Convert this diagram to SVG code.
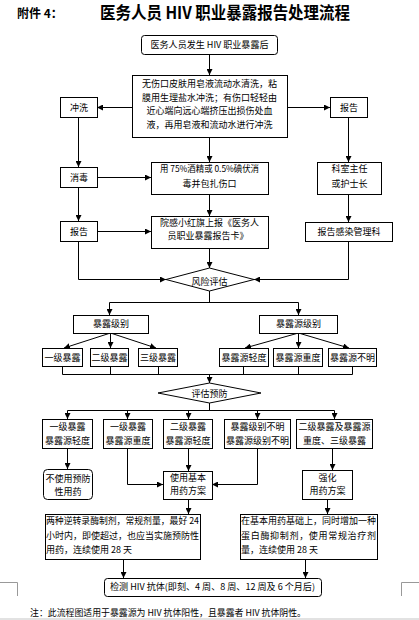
<svg xmlns="http://www.w3.org/2000/svg" width="419" height="620" viewBox="0 0 419 620">
<defs>
<marker id="ah" markerUnits="userSpaceOnUse" markerWidth="6" markerHeight="6" refX="6" refY="3" orient="auto">
<path d="M0,0 L6,3 L0,6 z" fill="#000"/>
</marker>
<style>
.b{fill:#fff;stroke:#000;stroke-width:1}
.t{font-family:"Noto Sans CJK SC","Liberation Sans",sans-serif;font-size:9px;fill:#000}
.c{text-anchor:middle}
.l{fill:none;stroke:#000;stroke-width:1}
.a{fill:none;stroke:#000;stroke-width:1;marker-end:url(#ah)}
.g{fill:none;stroke:#999;stroke-width:1}
</style>
</defs>
<rect x="0" y="0" width="419" height="620" fill="#fff"/>
<rect x="0" y="618" width="419" height="2" fill="#e2e2e2"/>
<path class="g" d="M0,582.5 H17.5 V596 M419,582.5 H401.5 V596"/>
<text x="17" y="18" class="t" style="font-size:12px;font-weight:bold">附件 4：</text>
<text x="225" y="19" class="t c" style="font-size:17px;font-weight:bold" textLength="250" lengthAdjust="spacingAndGlyphs">医务人员 HIV 职业暴露报告处理流程</text>

<g id="connectors">
<path class="a" d="M209.5,54 V75"/>
<path class="a" d="M132,107.5 H97"/>
<path class="a" d="M287,107.5 H330"/>
<path class="a" d="M78.5,117 V167"/>
<path class="a" d="M209.5,137 V162"/>
<path class="a" d="M348.5,117 V162"/>
<path class="a" d="M97,177.5 H151"/>
<path class="a" d="M78.5,187 V221"/>
<path class="a" d="M209.5,194 V216"/>
<path class="a" d="M348.5,194 V222"/>
<path class="a" d="M97,231.5 H151"/>
<path class="a" d="M209.5,248 V268"/>
<path class="a" d="M78.5,241 V279.5 H166"/>
<path class="a" d="M348.5,241 V279.5 H254"/>
<path class="l" d="M209.5,291 V302.5 M109.5,302.5 H298.5"/>
<path class="a" d="M109.5,302.5 V315"/>
<path class="a" d="M298.5,302.5 V315"/>
<path class="a" d="M110.5,333 L64,348"/>
<path class="a" d="M110.5,333 V348"/>
<path class="a" d="M110.5,333 L156,348"/>
<path class="a" d="M298.5,333 L245,348"/>
<path class="a" d="M298.5,333 V348"/>
<path class="a" d="M298.5,333 L349,348"/>
<path class="l" d="M62.5,366 V374.5 M110.5,366 V374.5 M158.5,366 V374.5 M243.5,367 V374.5 M298.5,367 V374.5 M352.5,367 V374.5 M62.5,374.5 H352.5"/>
<path class="a" d="M209.5,374.5 V383"/>
<path class="l" d="M209.5,403 V410.5 M67.5,410.5 H334.5"/>
<path class="a" d="M67.5,410.5 V419"/>
<path class="a" d="M127.5,410.5 V419"/>
<path class="a" d="M188.5,410.5 V419"/>
<path class="a" d="M257.5,410.5 V419"/>
<path class="a" d="M334.5,410.5 V419"/>
<path class="a" d="M67.5,448 V469"/>
<path class="a" d="M127.5,448 V484.5 H163"/>
<path class="a" d="M188.5,448 V471"/>
<path class="a" d="M257.5,448 V484.5 H212"/>
<path class="a" d="M332.5,448 V470"/>
<path class="a" d="M188.5,499 V514"/>
<path class="a" d="M327.5,499 V514"/>
<path class="a" d="M123.5,559 V578"/>
<path class="a" d="M305.5,559 V578"/>
</g>

<g id="n_start"><rect class="b" x="141.5" y="35.5" width="136" height="19" rx="3"/><text class="t c" x="209.5" y="48" textLength="118" lengthAdjust="spacingAndGlyphs">医务人员发生 HIV 职业暴露后</text></g>
<g id="n_wash_desc"><rect class="b" x="132.5" y="75.5" width="155" height="62"/>
<text class="t c" x="209.5" y="86.5">无伤口皮肤用皂液流动水清洗，粘</text>
<text class="t c" x="209.5" y="100.5">膜用生理盐水冲洗；有伤口轻轻由</text>
<text class="t c" x="209.5" y="114">近心端向远心端挤压出损伤处血</text>
<text class="t c" x="209.5" y="127.5">液，再用皂液和流动水进行冲洗</text></g>
<g id="n_wash"><rect class="b" x="60.5" y="97.5" width="37" height="20"/><text class="t c" x="79" y="110.5">冲洗</text></g>
<g id="n_report_r"><rect class="b" x="330.5" y="97.5" width="37" height="20"/><text class="t c" x="349" y="110.5">报告</text></g>
<g id="n_disinfect"><rect class="b" x="60.5" y="167.5" width="37" height="20"/><text class="t c" x="79" y="180.5">消毒</text></g>
<g id="n_disinfect_desc"><rect class="b" x="151.5" y="162.5" width="117" height="32"/>
<text class="t c" x="209.5" y="171.5" textLength="99" lengthAdjust="spacingAndGlyphs">用 75%酒精或 0.5%碘伏消</text>
<text class="t c" x="209.5" y="186.5">毒并包扎伤口</text></g>
<g id="n_director"><rect class="b" x="317.5" y="162.5" width="64" height="32"/>
<text class="t c" x="349.5" y="171.5">科室主任</text>
<text class="t c" x="349.5" y="186.5">或护士长</text></g>
<g id="n_report_l"><rect class="b" x="60.5" y="221.5" width="37" height="20"/><text class="t c" x="79" y="234.5">报告</text></g>
<g id="n_card"><rect class="b" x="151.5" y="216.5" width="117" height="32"/>
<text class="t c" x="209.5" y="225.5">院感小红旗上报《医务人</text>
<text class="t c" x="208" y="239">员职业暴露报告卡》</text></g>
<g id="n_infection"><rect class="b" x="305.5" y="222.5" width="87" height="19"/><text class="t c" x="349" y="235">报告感染管理科</text></g>
<g id="n_risk"><path class="b" d="M166,279.5 L209.5,268 L254,279.5 L209.5,291 Z"/><text class="t c" x="209.5" y="284.5">风险评估</text></g>
<g id="n_level"><rect class="b" x="73.5" y="315.5" width="75" height="18"/><text class="t c" x="111" y="326.5">暴露级别</text></g>
<g id="n_src_level"><rect class="b" x="259.5" y="315.5" width="78" height="18"/><text class="t c" x="298.5" y="326.5">暴露源级别</text></g>
<g id="n_l1"><rect class="b" x="42.5" y="348.5" width="40" height="18"/><text class="t c" x="62.5" y="360.5">一级暴露</text></g>
<g id="n_l2"><rect class="b" x="90.5" y="348.5" width="38" height="18"/><text class="t c" x="109.5" y="360.5">二级暴露</text></g>
<g id="n_l3"><rect class="b" x="138.5" y="348.5" width="39" height="18"/><text class="t c" x="158" y="360.5">三级暴露</text></g>
<g id="n_s1"><rect class="b" x="219.5" y="348.5" width="49" height="18"/><text class="t c" x="244" y="360.5">暴露源轻度</text></g>
<g id="n_s2"><rect class="b" x="273.5" y="348.5" width="49" height="18"/><text class="t c" x="298" y="360.5">暴露源重度</text></g>
<g id="n_s3"><rect class="b" x="328.5" y="348.5" width="48" height="18"/><text class="t c" x="352.5" y="360.5">暴露源不明</text></g>
<g id="n_assess"><path class="b" d="M158,393 L209.5,383 L261,393 L209.5,403 Z"/><text class="t c" x="209.5" y="396.5">评估预防</text></g>
<g id="n_a"><rect class="b" x="42.5" y="419.5" width="50" height="29"/><text class="t c" x="67.5" y="429.8">一级暴露</text><text class="t c" x="67.5" y="443.8">暴露源轻度</text></g>
<g id="n_b"><rect class="b" x="103.5" y="419.5" width="49" height="29"/><text class="t c" x="128" y="429.8">一级暴露</text><text class="t c" x="128" y="443.8">暴露源重度</text></g>
<g id="n_c"><rect class="b" x="163.5" y="419.5" width="49" height="29"/><text class="t c" x="188" y="429.8">二级暴露</text><text class="t c" x="188" y="443.8">暴露源轻度</text></g>
<g id="n_d"><rect class="b" x="224.5" y="419.5" width="66" height="29"/><text class="t c" x="257.5" y="429.8">暴露级别不明</text><text class="t c" x="257.5" y="443.8">暴露源级别不明</text></g>
<g id="n_e"><rect class="b" x="296.5" y="419.5" width="76" height="29"/><text class="t c" x="334.5" y="429.8">二级暴露及暴露源</text><text class="t c" x="334.5" y="443.8">重度、三级暴露</text></g>
<g id="n_none"><rect class="b" x="43.5" y="469.5" width="49" height="30" rx="4"/><text class="t c" x="68" y="482.3">不使用预防</text><text class="t c" x="68" y="495.3">性用药</text></g>
<g id="n_basic"><rect class="b" x="163.5" y="471.5" width="49" height="28"/><text class="t c" x="188" y="481">使用基本</text><text class="t c" x="188" y="494">用药方案</text></g>
<g id="n_strong"><rect class="b" x="302.5" y="470.5" width="50" height="29"/><text class="t c" x="327.5" y="481">强化</text><text class="t c" x="327.5" y="494">用药方案</text></g>
<g id="n_basic_desc"><rect class="b" x="45.5" y="514.5" width="155" height="45"/>
<text class="t" x="46" y="524.3" textLength="153" lengthAdjust="spacingAndGlyphs">两种逆转录酶制剂，常规剂量，最好 24</text>
<text class="t" x="46" y="539">小时内，即使超过，也应当实施预防性</text>
<text class="t" x="46" y="553.3">用药，连续使用 28 天</text></g>
<g id="n_strong_desc"><rect class="b" x="240.5" y="514.5" width="137" height="45"/>
<text class="t" x="241" y="524.3">在基本用药基础上，同时增加一种</text>
<text class="t" x="241" y="539" textLength="135" lengthAdjust="spacing">蛋白酶抑制剂，使用常规治疗剂</text>
<text class="t" x="241" y="553.3">量，连续使用 28 天</text></g>
<g id="n_test"><rect class="b" x="104.5" y="578.5" width="217" height="18" rx="3"/><text class="t c" x="212.5" y="590" textLength="205" lengthAdjust="spacingAndGlyphs">检测 HIV 抗体(即刻、4 周、8 周、12 周及 6 个月后)</text></g>
<text class="t" x="30" y="615.5" textLength="276" lengthAdjust="spacingAndGlyphs">注：此流程图适用于暴露源为 HIV 抗体阳性，且暴露者 HIV 抗体阴性。</text>
</svg>
